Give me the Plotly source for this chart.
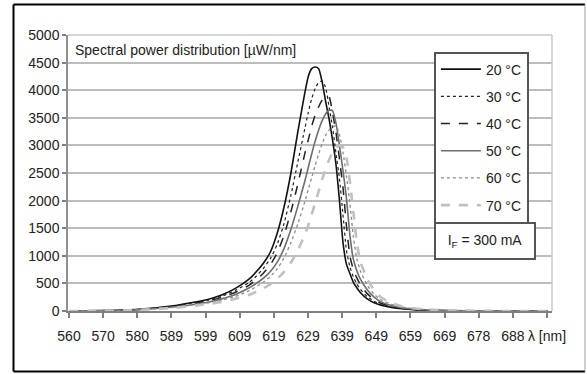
import numpy as np
import plotly.graph_objects as go

# ---- data ----
wavelength = [560, 570, 580, 590, 600, 604, 608, 612, 614, 616, 618, 620, 622, 624, 626, 628,
              629, 630, 631, 632, 633, 634, 635, 636, 637, 638, 639, 640, 641, 642, 643, 644,
              646, 648, 650, 653, 656, 660, 665, 670, 680, 690, 698]

t20 = [0, 8, 30, 95, 210, 290, 410, 580, 710, 860, 1060, 1400, 1880, 2500, 3250, 3950,
       4250, 4390, 4420, 4390, 4150, 3800, 3480, 3100, 2650, 2000, 1250, 850, 680, 520, 420, 335,
       220, 150, 105, 65, 40, 20, 10, 5, 2, 0, 0]
t30 = [0, 7, 28, 88, 195, 265, 375, 520, 630, 770, 940, 1200, 1580, 2100, 2700, 3300,
       3600, 3850, 4030, 4140, 4170, 4050, 3700, 3330, 2850, 2400, 1750, 1100, 800, 620, 490, 395,
       260, 175, 120, 75, 45, 25, 12, 6, 2, 0, 0]
t40 = [0, 6, 25, 80, 180, 245, 340, 470, 565, 680, 830, 1050, 1370, 1800, 2300, 2850,
       3100, 3350, 3550, 3700, 3820, 3890, 3880, 3600, 3230, 2750, 2250, 1550, 1000, 750, 600, 480,
       315, 210, 140, 85, 50, 28, 14, 7, 2, 0, 0]
t50 = [0, 6, 22, 72, 160, 220, 300, 420, 500, 590, 710, 880, 1130, 1480, 1900, 2350,
       2600, 2850, 3080, 3280, 3450, 3570, 3640, 3630, 3400, 3000, 2550, 2050, 1380, 940, 730, 580,
       385, 250, 165, 100, 60, 32, 16, 8, 2, 0, 0]
t60 = [0, 5, 20, 65, 145, 195, 265, 370, 440, 520, 620, 760, 960, 1240, 1580, 1980,
       2200, 2420, 2640, 2850, 3030, 3180, 3280, 3340, 3350, 3200, 2880, 2450, 1950, 1350, 950, 730,
       470, 305, 200, 120, 70, 38, 18, 9, 3, 0, 0]
t70 = [0, 5, 18, 55, 125, 165, 220, 295, 345, 410, 480, 580, 710, 880, 1100, 1380,
       1550, 1750, 1960, 2170, 2380, 2570, 2740, 2870, 2960, 3000, 2970, 2780, 2350, 1800, 1250, 900,
       580, 375, 245, 150, 85, 45, 22, 10, 3, 0, 0]

series_names = ["20 °C", "30 °C", "40 °C", "50 °C", "60 °C", "70 °C"]
series_values = [t20, t30, t40, t50, t60, t70]

x_tick_labels = ["560", "570", "580", "589", "599", "609", "619", "629", "639", "649",
                 "659", "669", "678", "688", "λ [nm]"]
y_tick_values = list(range(0, 5001, 500))

# ---- styles ----
styles = [
    dict(color="#111111", width=1.6, dash="solid"),
    dict(color="#222222", width=1.2, dash="dot"),
    dict(color="#222222", width=1.5, dash="dash"),
    dict(color="#6e6e6e", width=1.6, dash="solid"),
    dict(color="#8c8c8c", width=1.3, dash="dot"),
    dict(color="#c0c0c0", width=2.6, dash="dash"),
]

FONT = "Liberation Sans, Arial, sans-serif"
FS = 14

fig = go.Figure()
for i, (name, vals) in enumerate(zip(series_names, series_values)):
    fig.add_trace(go.Scatter(
        x=wavelength, y=vals, mode="lines", name=name,
        line=dict(shape="spline", smoothing=0.5, **styles[i]),
        legendgroup=f"g{i}",
    ))

tickvals = np.linspace(560, 697.85, len(x_tick_labels))

fig.update_layout(
    width=587, height=374,
    margin=dict(l=68, r=35, t=35, b=63, autoexpand=False),
    paper_bgcolor="white", plot_bgcolor="white",
    font=dict(family=FONT, size=FS, color="#222222"),
    showlegend=True,
    legend=dict(
        x=0.756, y=0.94, xanchor="left", yanchor="top",
        bordercolor="#555555", borderwidth=2, bgcolor="white",
        font=dict(family=FONT, size=FS, color="#222222"),
        traceorder="grouped", tracegroupgap=6,
        itemwidth=40,
    ),
    xaxis=dict(
        range=[559.71, 699.29], tickmode="array", tickvals=tickvals, ticktext=x_tick_labels,
        tickangle=0, automargin=False, ticklabelstandoff=6,
        showgrid=False, zeroline=False,
        showline=True, linecolor="#808080", linewidth=2,
        ticks="outside", ticklen=5, tickwidth=1.5, tickcolor="#808080",
        tickfont=dict(family=FONT, size=FS, color="#222222"),
    ),
    yaxis=dict(
        range=[0, 5000], tickmode="array", tickvals=y_tick_values, automargin=False,
        showgrid=True, gridcolor="#bdbdbd", gridwidth=1.6,
        zeroline=False,
        showline=True, linecolor="#909090", linewidth=1.5,
        ticks="outside", ticklen=4, tickwidth=1.5, tickcolor="#808080",
        tickfont=dict(family=FONT, size=FS, color="#222222"),
    ),
)

# plot-area border (top / right, light grey)
fig.add_shape(type="line", xref="paper", yref="paper", x0=0, x1=1, y0=1, y1=1,
              line=dict(color="#c8c8c8", width=1.5))
fig.add_shape(type="line", xref="paper", yref="paper", x0=1, x1=1, y0=0, y1=1,
              line=dict(color="#c8c8c8", width=1.5))

# outer frame
L, R, T, B = -0.1126, 1.0682, 1.1105, -0.2192
fig.add_shape(type="line", xref="paper", yref="paper", x0=L, x1=R, y0=T, y1=T,
              line=dict(color="black", width=2))
fig.add_shape(type="line", xref="paper", yref="paper", x0=L, x1=L, y0=B, y1=T,
              line=dict(color="black", width=2))
fig.add_shape(type="line", xref="paper", yref="paper", x0=L, x1=R, y0=B, y1=B,
              line=dict(color="black", width=2))
fig.add_shape(type="line", xref="paper", yref="paper", x0=R, x1=R, y0=B, y1=T,
              line=dict(color="#a0a0a0", width=1))

# chart label
fig.add_annotation(text="Spectral power distribution [µW/nm]", xref="paper", yref="paper",
                   x=0.0103, y=0.9457, xanchor="left", yanchor="middle", showarrow=False,
                   font=dict(family=FONT, size=FS, color="#222222"))

# forward current box
fig.add_annotation(text="I<sub>F</sub> = 300 mA", xref="paper", yref="paper",
                   x=0.8616, y=0.2536, xanchor="center", yanchor="middle", showarrow=False,
                   width=98, height=34, borderpad=0, borderwidth=2, bordercolor="#555555",
                   bgcolor="white",
                   font=dict(family=FONT, size=FS, color="#222222"))

fig.write_html("out.html", config={"displayModeBar": False},
               post_script="document.body.style.margin='0';")
